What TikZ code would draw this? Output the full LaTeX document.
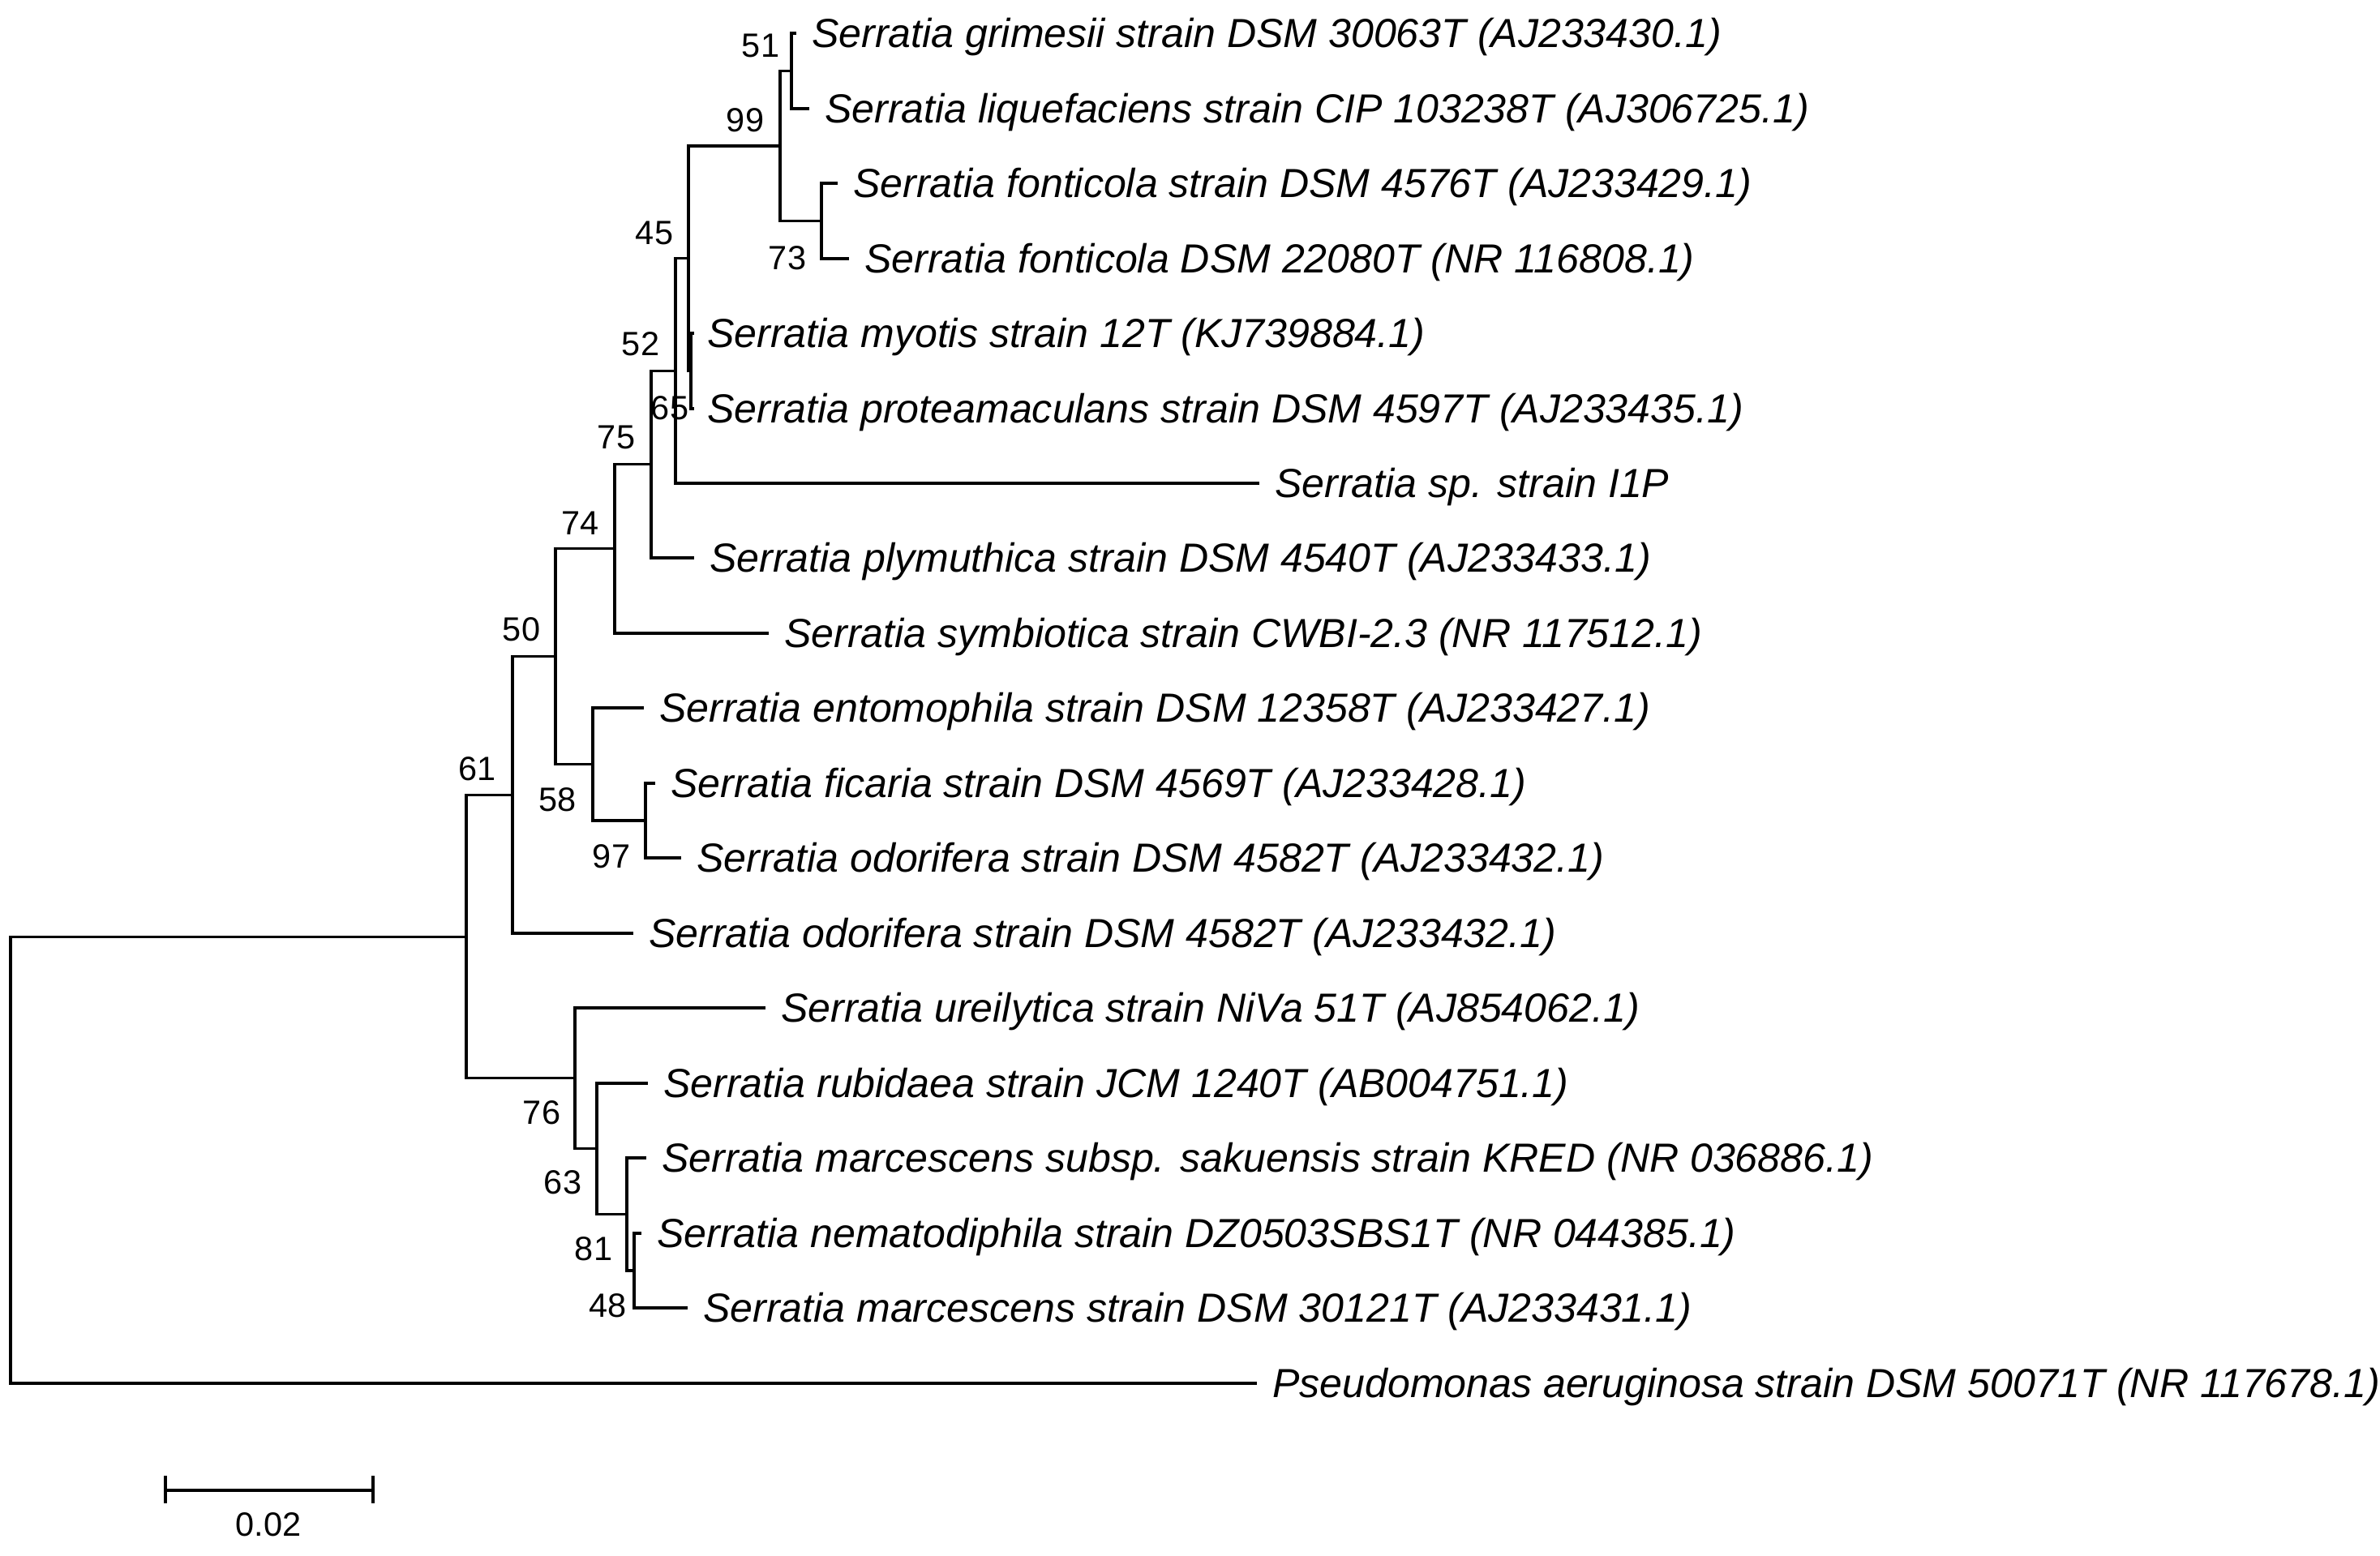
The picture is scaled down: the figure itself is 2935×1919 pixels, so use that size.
\documentclass[tikz,border=0pt]{standalone}
\usepackage{fontspec}
\setmainfont{Liberation Sans}
\usetikzlibrary{positioning}
\tikzset{
  branch/.style={line width=0.9pt, draw=black},
  taxon/.style={inner sep=0pt, text height=10pt, text depth=0pt, font=\fontsize{14.25}{17}\selectfont\itshape},
  boot/.style={inner sep=0pt, font=\fontsize{11.8}{14}\selectfont},
}
\begin{document}
\begin{tikzpicture}[x=0.1mm, y=-0.1mm]
\useasboundingbox (0,0) rectangle (2935,1919);
% internal nodes
\coordinate (root) at (13,1430.6); \coordinate (n0) at (575,1155.1);
\coordinate (n61) at (632,980.4); \coordinate (n50) at (685,809.7); \coordinate (n74) at (758,676.9);
\coordinate (n75) at (803,572.7); \coordinate (n52) at (833,457.4); \coordinate (n45) at (849,318.8);
\coordinate (n65) at (852,457.5); \coordinate (n99) at (962,180); \coordinate (n51) at (976,87.5);
\coordinate (n73) at (1013,272.5); \coordinate (n58) at (731,942.5); \coordinate (n97) at (796,1012);
\coordinate (n76) at (709,1329.9); \coordinate (n63) at (736,1416.8); \coordinate (n81) at (773,1497.5);
\coordinate (n48) at (782,1567);
% tips
\coordinate (t1) at (982,41); \coordinate (t2) at (998,134); \coordinate (t3) at (1033,226);
\coordinate (t4) at (1047,319); \coordinate (t5) at (856,411); \coordinate (t6) at (856,504);
\coordinate (t7) at (1553,596); \coordinate (t8) at (856,688); \coordinate (t9) at (948,781);
\coordinate (t10) at (794,873); \coordinate (t11) at (808,966); \coordinate (t12) at (840,1058);
\coordinate (t13) at (781,1151); \coordinate (t14) at (944,1243); \coordinate (t15) at (799,1336);
\coordinate (t16) at (797,1428); \coordinate (t17) at (791,1521); \coordinate (t18) at (848,1613);
\coordinate (t19) at (1550,1706);
% branches
\draw[branch] (root)|-(n0); \draw[branch] (root)|-(t19);
\draw[branch] (n0)|-(n61); \draw[branch] (n0)|-(n76);
\draw[branch] (n61)|-(n50); \draw[branch] (n61)|-(t13);
\draw[branch] (n50)|-(n74); \draw[branch] (n50)|-(n58);
\draw[branch] (n74)|-(n75); \draw[branch] (n74)|-(t9);
\draw[branch] (n75)|-(n52); \draw[branch] (n75)|-(t8);
\draw[branch] (n52)|-(n45); \draw[branch] (n52)|-(t7);
\draw[branch] (n45)|-(n99); \draw[branch] (n45)|-(n65);
\draw[branch] (n65)|-(t5); \draw[branch] (n65)|-(t6);
\draw[branch] (n99)|-(n51); \draw[branch] (n99)|-(n73);
\draw[branch] (n51)|-(t1); \draw[branch] (n51)|-(t2);
\draw[branch] (n73)|-(t3); \draw[branch] (n73)|-(t4);
\draw[branch] (n58)|-(t10); \draw[branch] (n58)|-(n97);
\draw[branch] (n97)|-(t11); \draw[branch] (n97)|-(t12);
\draw[branch] (n76)|-(t14); \draw[branch] (n76)|-(n63);
\draw[branch] (n63)|-(t15); \draw[branch] (n63)|-(n81);
\draw[branch] (n81)|-(t16); \draw[branch] (n81)|-(n48);
\draw[branch] (n48)|-(t17); \draw[branch] (n48)|-(t18);
% taxa
\node[taxon, right=1.85mm of t1] (grimesii) {Serratia grimesii strain DSM 30063T (AJ233430.1)};
\node[taxon, right=1.85mm of t2] (liquefaciens) {Serratia liquefaciens strain CIP 103238T (AJ306725.1)};
\node[taxon, right=1.85mm of t3] (fonticolaA) {Serratia fonticola strain DSM 4576T (AJ233429.1)};
\node[taxon, right=1.85mm of t4] (fonticolaB) {Serratia fonticola DSM 22080T (NR 116808.1)};
\node[taxon, right=1.55mm of t5] (myotis) {Serratia myotis strain 12T (KJ739884.1)};
\node[taxon, right=1.55mm of t6] (proteamaculans) {Serratia proteamaculans strain DSM 4597T (AJ233435.1)};
\node[taxon, right=1.85mm of t7] (isolate) {Serratia sp. strain I1P};
\node[taxon, right=1.85mm of t8] (plymuthica) {Serratia plymuthica strain DSM 4540T (AJ233433.1)};
\node[taxon, right=1.85mm of t9] (symbiotica) {Serratia symbiotica strain CWBI-2.3 (NR 117512.1)};
\node[taxon, right=1.85mm of t10] (entomophila) {Serratia entomophila strain DSM 12358T (AJ233427.1)};
\node[taxon, right=1.85mm of t11] (ficaria) {Serratia ficaria strain DSM 4569T (AJ233428.1)};
\node[taxon, right=1.85mm of t12] (odoriferaA) {Serratia odorifera strain DSM 4582T (AJ233432.1)};
\node[taxon, right=1.85mm of t13] (odoriferaB) {Serratia odorifera strain DSM 4582T (AJ233432.1)};
\node[taxon, right=1.85mm of t14] (ureilytica) {Serratia ureilytica strain NiVa 51T (AJ854062.1)};
\node[taxon, right=1.85mm of t15] (rubidaea) {Serratia rubidaea strain JCM 1240T (AB004751.1)};
\node[taxon, right=1.85mm of t16] (sakuensis) {Serratia marcescens subsp. sakuensis strain KRED (NR 036886.1)};
\node[taxon, right=1.85mm of t17] (nematodiphila) {Serratia nematodiphila strain DZ0503SBS1T (NR 044385.1)};
\node[taxon, right=1.85mm of t18] (marcescens) {Serratia marcescens strain DSM 30121T (AJ233431.1)};
\node[taxon, right=1.85mm of t19] (aeruginosa) {Pseudomonas aeruginosa strain DSM 50071T (NR 117678.1)};
% bootstrap values
\node[boot] (b51) at (938,56) {51}; \node[boot] (b99) at (919,148) {99};
\node[boot] (b73) at (971,318) {73}; \node[boot] (b45) at (807,287) {45};
\node[boot] (b52) at (790,424) {52}; \node[boot] (b65) at (826,503) {65};
\node[boot] (b75) at (760,539) {75}; \node[boot] (b74) at (716,645) {74};
\node[boot] (b50) at (643,776) {50}; \node[boot] (b61) at (589,948) {61};
\node[boot] (b58) at (688,986) {58}; \node[boot] (b97) at (754,1056) {97};
\node[boot] (b76) at (668,1372) {76}; \node[boot] (b63) at (694,1458) {63};
\node[boot] (b81) at (732,1540) {81}; \node[boot] (b48) at (750,1610) {48};
% scale bar
\coordinate (sb1) at (204,1838); \coordinate (sb2) at (460,1838);
\draw[branch] (sb1)--(sb2);
\draw[branch] (sb1) ++(0,-18) --++(0,34); \draw[branch] (sb2) ++(0,-18) --++(0,34);
\node[boot] (scale) at (331,1880) {0.02};
\end{tikzpicture}
\end{document}
